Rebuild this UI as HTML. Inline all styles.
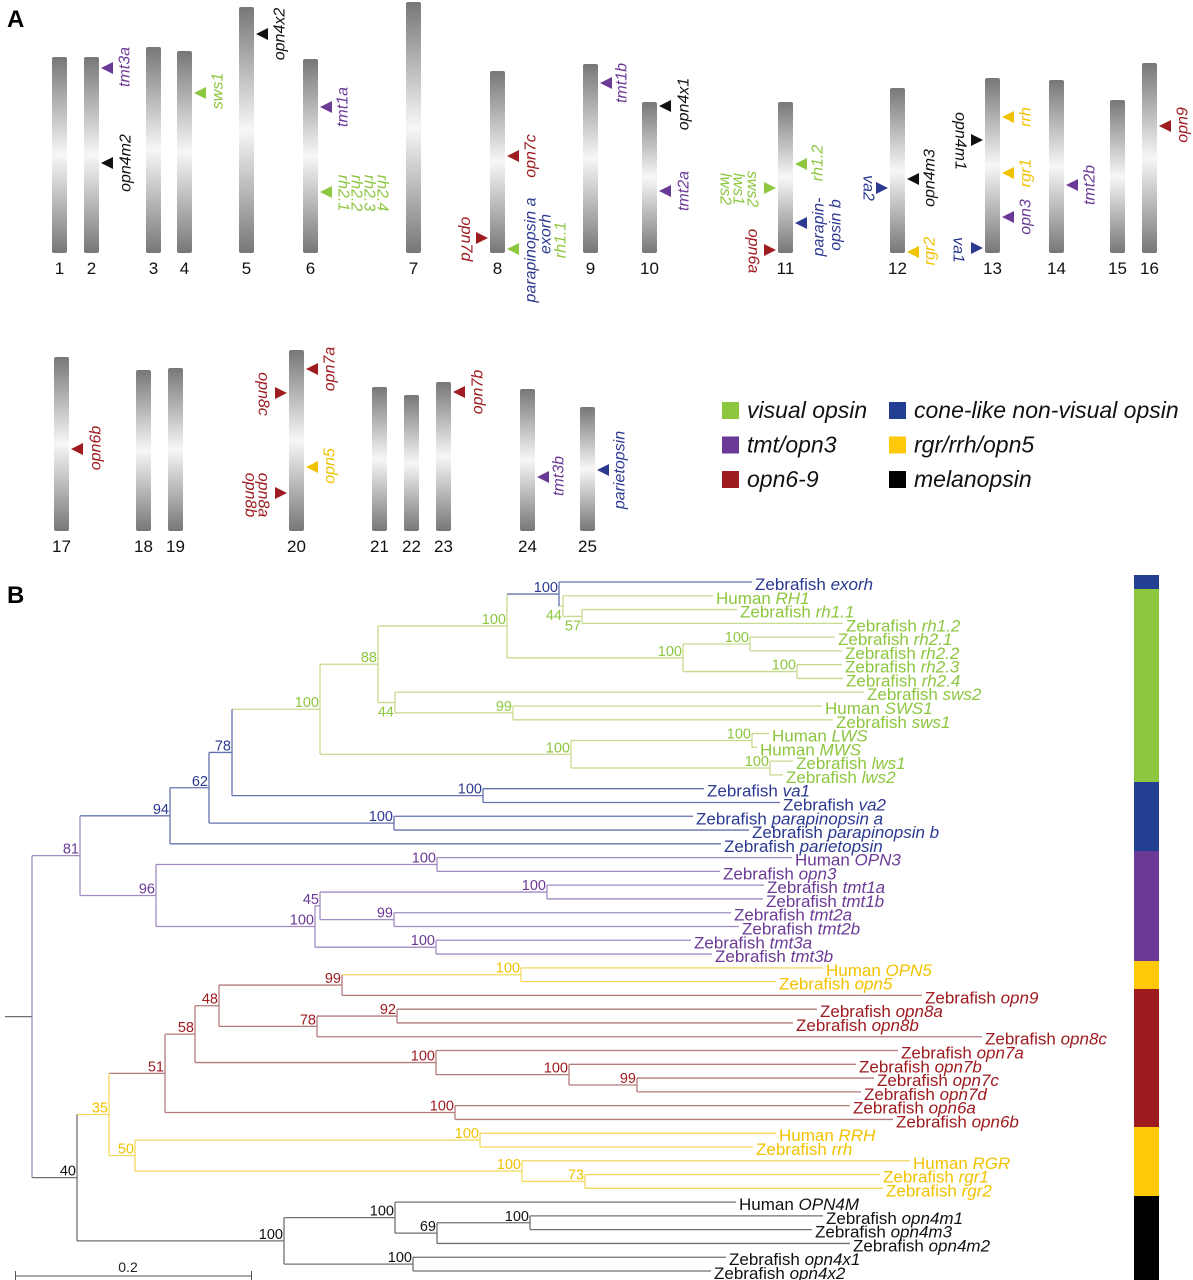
<!DOCTYPE html>
<html><head><meta charset="utf-8"><title>Opsin chromosomes and phylogeny</title>
<style>
html,body{margin:0;padding:0;background:#fff;}
svg{display:block;font-family:"Liberation Sans",Arial,sans-serif;}
</style></head>
<body>
<svg id="fig" width="1193" height="1280" viewBox="0 0 1193 1280" xmlns="http://www.w3.org/2000/svg">
<defs>
<linearGradient id="chrg" x1="0" y1="0" x2="0" y2="1">
<stop offset="0" stop-color="#777"/><stop offset="0.5" stop-color="#f7f7f7"/><stop offset="1" stop-color="#777"/>
</linearGradient>
</defs>
<text x="7" y="27" font-size="24" font-weight="bold">A</text>
<text x="7" y="603" font-size="24" font-weight="bold">B</text>
<g id="panelA"></g>
<g id="legend"></g>
<g id="tree"></g>
<g id="cbar"></g>
<g>
<line x1="15" y1="1276" x2="252" y2="1276" stroke="#555" stroke-width="1"/>
<line x1="15.5" y1="1271" x2="15.5" y2="1280" stroke="#555"/>
<line x1="251.5" y1="1271" x2="251.5" y2="1280" stroke="#555"/>
<text x="128" y="1272" font-size="14" text-anchor="middle" fill="#222">0.2</text>
</g>
</svg>
<script>
const NS="http://www.w3.org/2000/svg";
const TXT={G:"#8dc63f",B:"#2b3990",P:"#6b3a96",R:"#9e1b20",Y:"#f2c200",K:"#111"};
const LN={G:"#c8da8f",B:"#6472ad",P:"#a08cc2",R:"#b37c7c",Y:"#f3d862",K:"#707070"};

// ---------- Panel A data ----------
const chrNames=["1","2","3","4","5","6","7","8","9","10","11","12","13","14","15","16","17","18","19","20","21","22","23","24","25"];
const chrX=[52,84,146,177,239,303,406,490,583,642,778,890,985,1049,1110,1142,54,136,168,289,372,404,436,520,580];
const chrTop=[57,57,47,51,7,59,2,71,64,102,102,88,78,80,100,63,357,370,368,350,387,395,382,389,407];
const chrBottom=[253,253,253,253,253,253,253,253,253,253,253,253,253,253,253,253,531,531,531,531,531,531,531,531,531];
const mkGene=["tmt3a","opn4m2","sws1","opn4x2","tmt1a","","opn7c","opn7d","","tmt1b","opn4x1","tmt2a","","opn6a","rh1.2","","va2","opn4m3","rgr2","opn4m1","va1","rrh","rgr1","opn3","tmt2b","opn9","opn6b","opn7a","opn8c","opn5","","opn7b","tmt3b","parietopsin"];
const mkChr=[1,1,3,4,5,5,7,7,7,8,9,9,10,10,10,10,11,11,11,12,12,12,12,12,13,15,16,19,19,19,19,22,23,24];
const mkY=[68,163,93,34,107,192,156,238,249,83,106,191,188,250,164,223,188,179,252,140,248,117,173,217,185,126,449,369,393,467,493,392,477,470];
const mkSide=[1,1,1,1,1,1,1,-1,1,1,1,1,-1,-1,1,1,-1,1,1,-1,-1,1,1,1,1,1,1,1,-1,1,-1,1,1,1];
const mkCol=["P","K","G","K","P","G","R","R","G","P","K","P","G","R","G","B","B","K","Y","K","B","Y","Y","P","P","R","R","R","R","Y","R","R","P","B"];
const exText=["rh2.1","rh2.2","rh2.3","rh2.4","parapinopsin a","exorh","rh1.1","lws2","lws1","sws2","parapin-","opsin b","opn8a","opn8b"];
const exX=[343,356,369,382,531,546,561,725,738,752,819,836,263,250];
const exY=[193,193,193,193,250,234,240,189,189,189,227,225,495,495];
const exRot=[90,90,90,90,-90,-90,-90,90,90,90,-90,-90,90,90];
const exCol=["G","G","G","G","B","B","G","G","G","G","B","B","R","R"];
const mkLabX=[125,126,218,280,343,0,531,466,0,622,684,684,0,753,818,0,868,930,930,960,958,1026,1026,1026,1090,1183,96,330,263,330,0,478,559,620];
const mkLabY=[67,163,91,34,107,0,156,239,0,83,104,191,0,251,163,0,188,178,251,141,250,117,173,217,185,125,448,369,394,466,0,392,476,470];

// ---------- Tree data ----------
const leafPrefix=["Zebrafish","Human","Zebrafish","Zebrafish","Zebrafish","Zebrafish","Zebrafish","Zebrafish","Zebrafish","Human","Zebrafish","Human","Human","Zebrafish","Zebrafish","Zebrafish","Zebrafish","Zebrafish","Zebrafish","Zebrafish","Human","Zebrafish","Zebrafish","Zebrafish","Zebrafish","Zebrafish","Zebrafish","Zebrafish","Human","Zebrafish","Zebrafish","Zebrafish","Zebrafish","Zebrafish","Zebrafish","Zebrafish","Zebrafish","Zebrafish","Zebrafish","Zebrafish","Human","Zebrafish","Human","Zebrafish","Zebrafish","Human","Zebrafish","Zebrafish","Zebrafish","Zebrafish","Zebrafish"];
const leafGene=["exorh","RH1","rh1.1","rh1.2","rh2.1","rh2.2","rh2.3","rh2.4","sws2","SWS1","sws1","LWS","MWS","lws1","lws2","va1","va2","parapinopsin a","parapinopsin b","parietopsin","OPN3","opn3","tmt1a","tmt1b","tmt2a","tmt2b","tmt3a","tmt3b","OPN5","opn5","opn9","opn8a","opn8b","opn8c","opn7a","opn7b","opn7c","opn7d","opn6a","opn6b","RRH","rrh","RGR","rgr1","rgr2","OPN4M","opn4m1","opn4m3","opn4m2","opn4x1","opn4x2"];
const leafLabelX=[755,716,740,846,838,845,845,846,867,825,836,772,760,796,786,707,783,696,752,724,795,723,767,766,734,742,694,715,826,779,925,820,796,985,901,859,877,864,853,896,779,756,913,883,886,739,826,815,853,729,714];
const leafCol=["B","G","G","G","G","G","G","G","G","G","G","G","G","G","G","B","B","B","B","B","P","P","P","P","P","P","P","P","Y","Y","R","R","R","R","R","R","R","R","R","R","Y","Y","Y","Y","Y","K","K","K","K","K","K"];
// topology: [nodeX, support, colour, labelBelow, children...]; numbers = leaf index
const topology=[32,"","P",0,
 [80,"81","P",0,
  [170,"94","B",0,
   [209,"62","B",0,
    [232,"78","B",0,
     [320,"100","G",0,
      [378,"88","G",0,
       [507,"100","G",0,
        [559,"100","B",0,0,[563,"44","G",1,1,[582,"57","G",1,2,3]]],
        [683,"100","G",0,[750,"100","G",0,4,5],[797,"100","G",0,6,7]]],
       [395,"44","G",1,8,[513,"99","G",0,9,10]]],
      [571,"100","G",0,[752,"100","G",0,11,12],[770,"100","G",0,13,14]]],
     [483,"100","B",0,15,16]],
    [394,"100","B",0,17,18]],
   19],
  [156,"96","P",0,
   [437,"100","P",0,20,21],
   [315,"100","P",0,
    [320,"45","P",0,[547,"100","P",0,22,23],[394,"99","P",0,24,25]],
    [436,"100","P",0,26,27]]]],
 [77,"40","K",0,
  [109,"35","Y",0,
   [165,"51","R",0,
    [195,"58","R",0,
     [219,"48","R",0,
      [342,"99","R",0,[521,"100","Y",0,28,29],30],
      [317,"78","R",0,[397,"92","R",0,31,32],33]],
     [436,"100","R",0,34,[569,"100","R",0,35,[637,"99","R",0,36,37]]]],
    [455,"100","R",0,38,39]],
   [135,"50","Y",0,[480,"100","Y",0,40,41],[522,"100","Y",0,42,[585,"73","Y",0,43,44]]]],
  [284,"100","K",0,
   [395,"100","K",0,45,[437,"69","K",0,[530,"100","K",0,46,47],48]],
   [413,"100","K",0,49,50]]]];
const barStart=[575,589,782,851,961,989,1127,1196];
const barEnd=[589,782,851,961,989,1127,1196,1280];
const barCol=["B","G","B","P","Y","R","Y","K"];
const legendText=["visual opsin","tmt/opn3","opn6-9","cone-like non-visual opsin","rgr/rrh/opn5","melanopsin"];
const legendCol=["G","P","R","B","Y","K"];
const legendColor={G:"#8dc63f",P:"#6b3a96",R:"#9e1b20",B:"#233f94",Y:"#ffc907",K:"#000"};

function mk(tag,attrs,parent){const e=document.createElementNS(NS,tag);for(const k in attrs)e.setAttribute(k,attrs[k]);parent.appendChild(e);return e;}

// ---- Panel A ----
const A=document.getElementById("panelA");
chrNames.forEach((n,i)=>{
 const r=mk("rect",{x:chrX[i],y:chrTop[i],width:15,height:chrBottom[i]-chrTop[i],rx:2,fill:"url(#chrg)"},A);
 
 
 const t=mk("text",{x:chrX[i]+7.5,y:chrBottom[i]+21,"font-size":17,"text-anchor":"middle",fill:"#111"},A);
 t.textContent=n;
 
 
});
mkGene.forEach((g,i)=>{
 const c=mkChr[i],y=mkY[i],s=mkSide[i];
 let pts;
 if(s>0){const x=chrX[c]+17;pts=`${x},${y} ${x+12},${y-6} ${x+12},${y+6}`;}
 else{const x=chrX[c]-2;pts=`${x},${y} ${x-12},${y-6} ${x-12},${y+6}`;}
 const p=mk("polygon",{points:pts,fill:TXT[mkCol[i]]},A);
 
 
 if(g){
  const rot=s>0?-90:90;
  const t=mk("text",{x:mkLabX[i],y:mkLabY[i],"font-size":16,"font-style":"italic","text-anchor":"middle","dominant-baseline":"central",fill:TXT[mkCol[i]],transform:`rotate(${rot} ${mkLabX[i]} ${mkLabY[i]})`},A);
  t.textContent=g;
  
  
 }
});
exText.forEach((g,i)=>{
 const t=mk("text",{x:exX[i],y:exY[i],"font-size":16,"font-style":"italic","text-anchor":"middle","dominant-baseline":"central",fill:TXT[exCol[i]],transform:`rotate(${exRot[i]} ${exX[i]} ${exY[i]})`},A);
 t.textContent=g;
 
 
});

// ---- Legend ----
const L=document.getElementById("legend");
legendText.forEach((s,i)=>{
 const col=i<3?0:1,row=i%3;
 const sx=col?889:722, cy=410+row*34.5;
 const r=mk("rect",{x:sx,y:cy-8,width:17,height:17,fill:legendColor[legendCol[i]]},L);
 
 
 const t=mk("text",{x:sx+25,y:cy+8,"font-size":23,"font-style":"italic",fill:"#111"},L);
 t.textContent=s;
 
 
});

// ---- Tree ----
const T=document.getElementById("tree");
const y0=582, dy=13.78;
function leafY(i){return y0+dy*i;}
function line(x1,y1,x2,y2,c){
 const l=mk("line",{x1,y1,x2,y2,stroke:LN[c],"stroke-width":1.3},T);
 
 
}
function draw(node){
 const [x,sup,col,below,...kids]=node;
 const ys=[];
 kids.forEach(k=>{
  if(typeof k==="number"){
   const y=leafY(k);ys.push(y);
   line(x,y,leafLabelX[k]-3,y,leafCol[k]);
   const t=mk("text",{x:leafLabelX[k],y:y+8,"font-size":17,fill:TXT[leafCol[k]]},T);
   
   
   t.appendChild(document.createTextNode(leafPrefix[k]+" "));
   const it=mk("tspan",{"font-style":"italic"},t);it.textContent=leafGene[k];
  }else{
   const y=draw(k);ys.push(y);
   line(x,y,k[0],y,k[2]);
  }
 });
 line(x,Math.min(...ys),x,Math.max(...ys),col);
 const ny=(ys[0]+ys[ys.length-1])/2;
 if(sup){
  const t=mk("text",{x:x-1,y:below?ny+14:ny-2,"font-size":14.5,"text-anchor":"end",fill:TXT[col]},T);
  t.textContent=sup;
  
  
 }
 return ny;
}
const rootY=draw(topology);
line(5,rootY,topology[0],rootY,"K");

// ---- colour bar ----
const CB=document.getElementById("cbar");
barStart.forEach((s,i)=>{
 const r=mk("rect",{x:1134,y:s,width:25,height:barEnd[i]-s,fill:legendColor[barCol[i]]},CB);
 
 
});
</script>
</body></html>
